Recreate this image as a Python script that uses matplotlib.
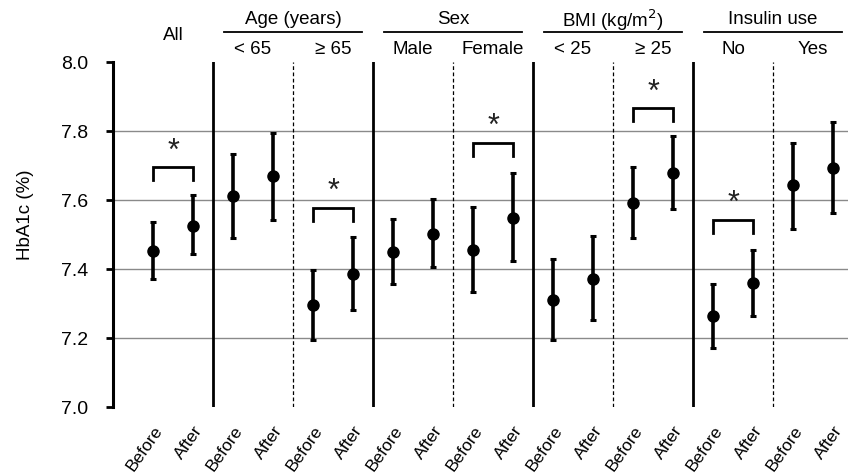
import matplotlib
matplotlib.use("Agg")
from matplotlib import pyplot as plt

plt.rcParams['font.family'] = ['Liberation Sans', 'DejaVu Sans']

# Data: mean HbA1c with lower / upper error limits
labels = ["Before", "After"] * 9
means = [7.453, 7.526, 7.612, 7.669, 7.295, 7.385, 7.448, 7.502, 7.455, 7.548,
         7.310, 7.372, 7.590, 7.677, 7.264, 7.359, 7.642, 7.692]
lower = [7.370, 7.443, 7.490, 7.543, 7.193, 7.280, 7.356, 7.406, 7.332, 7.422,
         7.195, 7.251, 7.491, 7.574, 7.172, 7.265, 7.515, 7.561]
upper = [7.535, 7.613, 7.733, 7.793, 7.396, 7.493, 7.545, 7.603, 7.579, 7.678,
         7.428, 7.497, 7.695, 7.784, 7.356, 7.455, 7.766, 7.825]

groups = ["Age (years)", "Sex", "BMI (kg/m$^2$)", "Insulin use"]
subgroups = ["< 65", "\u2265 65", "Male", "Female", "< 25", "\u2265 25", "No", "Yes"]

# significant pairs (index of the "Before" point) and the bracket top
sig_pairs = [0, 4, 8, 12, 14]
sig_tops = [7.695, 7.577, 7.766, 7.866, 7.542]

fig = plt.figure(figsize=(8.48, 4.77), dpi=100)
ax = fig.add_axes([0.1333, 0.1447, 0.8667, 0.7233])

x = list(range(len(means)))
yerr = [[m - l for m, l in zip(means, lower)], [u - m for m, u in zip(means, upper)]]

# gridlines
for g in [7.2, 7.4, 7.6, 7.8]:
    ax.axhline(g, color='#8a8a8a', linewidth=1.0, zorder=0)

# separators between subgroups
for k in range(4):
    ax.plot([1.5 + 4 * k] * 2, [7.0, 8.0], color='black', linewidth=2.0, zorder=1)
    ax.plot([3.5 + 4 * k] * 2, [7.0, 8.0], color='black', linewidth=0.9,
            linestyle=(0, (3, 2)), zorder=1)

ax.errorbar(x, means, yerr=yerr, fmt='o', color='black', markersize=8,
            elinewidth=2.6, capsize=2, capthick=2.2, zorder=3)

# significance brackets
for i, top in zip(sig_pairs, sig_tops):
    ax.plot([i, i, i + 1, i + 1], [top - 0.038, top, top, top - 0.038],
            color='black', linewidth=2.0, solid_joinstyle='miter', zorder=3)
    ax.text(i + 0.5, top + 0.005, "*", ha='center', va='bottom', fontsize=22,
            color='#222222')

# header texts
ax.text(0.5, 8.081, "All", ha='center', va='center', fontsize=13.5, clip_on=False)
for k, name in enumerate(groups):
    c = 3.5 + 4 * k
    ax.text(c, 8.125, name, ha='center', va='center', fontsize=13.5, clip_on=False)
    ax.plot([1.5 + 4 * k + 0.28, min(1.5 + 4 * k + 3.72, 17.375)], [8.088, 8.088],
            color='black', linewidth=1.3, clip_on=False)
for k, name in enumerate(subgroups):
    ax.text(2.5 + 2 * k, 8.040, name, ha='center', va='center', fontsize=13.5, clip_on=False)

ax.set_xlim(-1, 17.375)
ax.set_ylim(7.0, 8.0)
ax.set_yticks([7.0, 7.2, 7.4, 7.6, 7.8, 8.0])
ax.set_yticklabels(["7.0", "7.2", "7.4", "7.6", "7.8", "8.0"])
ax.set_xticks(x)
ax.set_xticklabels(labels, rotation=55, ha='right', rotation_mode='anchor', fontsize=12.5)

for s in ['top', 'right', 'bottom']:
    ax.spines[s].set_visible(False)
ax.spines['left'].set_linewidth(2.2)
ax.spines['left'].set_position(('data', -1))
ax.tick_params(axis='y', direction='out', length=5, width=2, pad=13, labelsize=14)
ax.tick_params(axis='x', length=0, pad=11)

ax.set_ylabel("HbA1c (%)", fontsize=13.5)
ax.yaxis.set_label_coords(-0.108, 0.559)

fig.savefig("out.png", dpi=100)
